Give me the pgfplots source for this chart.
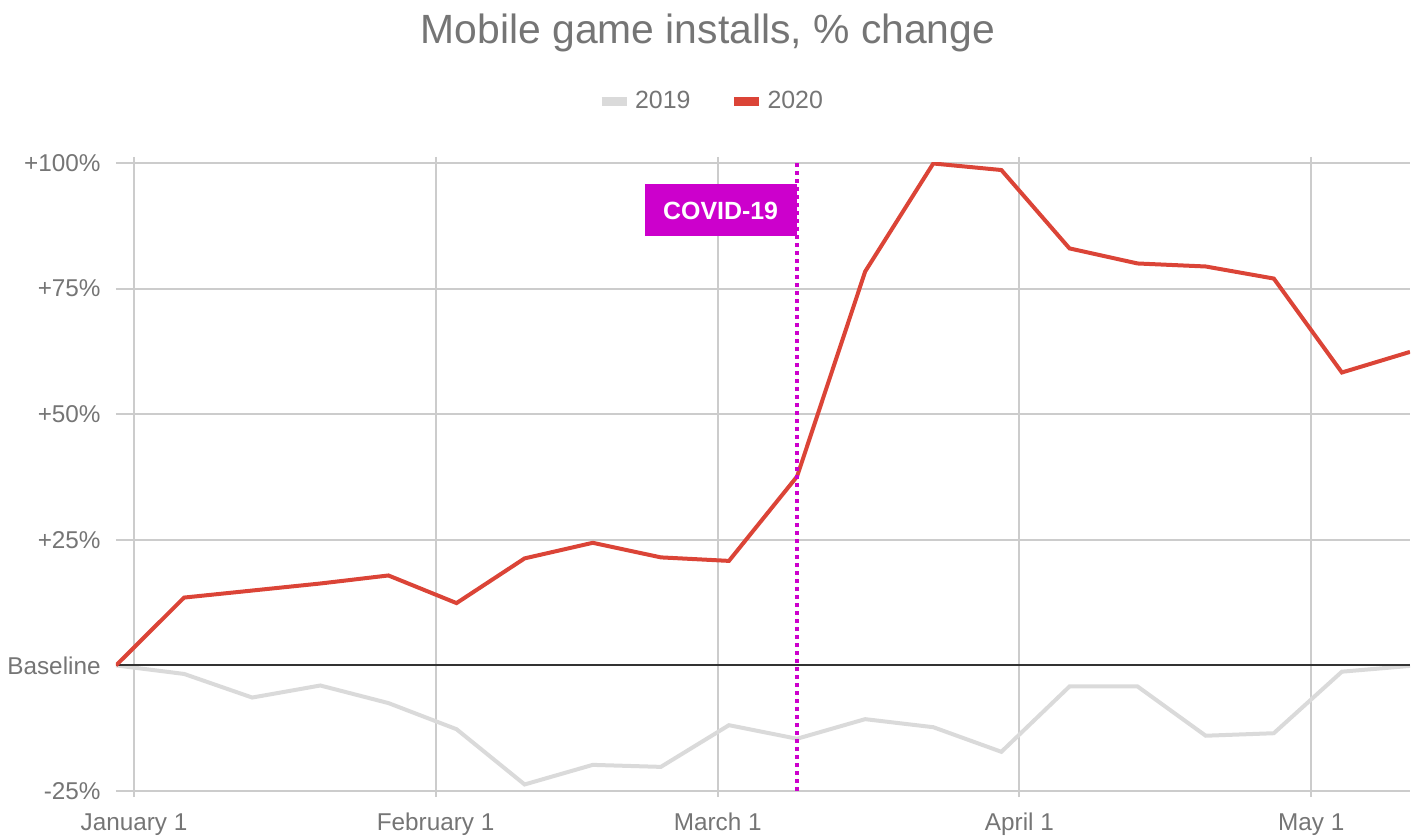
\documentclass[border=0pt]{standalone}
\usepackage{fontspec}
\setmainfont{Liberation Sans}
\usepackage{pgfplots}
\pgfplotsset{compat=1.18}
\definecolor{txt}{HTML}{757575}
\definecolor{red20}{HTML}{DB4437}
\definecolor{gray19}{HTML}{DADADA}
\definecolor{gridc}{HTML}{CCCCCC}
\definecolor{covid}{HTML}{CC00CC}
\begin{document}
\begin{tikzpicture}
\begin{axis}[
  scale only axis, width=647bp, height=314bp,
  at={(0,0)}, anchor=south west,
  xmin=-1.85, xmax=131.15, ymin=-25, ymax=100,
  xtick={0,31,60,91,121},
  xticklabels={January 1, February 1, March 1, April 1, May 1},
  ytick={-25,0,25,50,75,100},
  yticklabels={-25\%, Baseline, +25\%, +50\%, +75\%, +100\%},
  grid=major, major grid style={gridc, line width=1bp},
  axis line style={draw=none},
  tick align=outside, major tick length=3bp,
  xtick style={gridc, line width=1bp},
  ytick style={draw=none},
  ticklabel style={font=\fontsize{12.2}{14}\selectfont, text=txt},
  yticklabel style={anchor=east, inner sep=0pt, xshift=-4.5bp},
  xticklabel style={anchor=base, inner sep=0pt, yshift=-16.5bp},
  title={Mobile game installs, \% change},
  title style={at={(0.4575,1.172)}, anchor=base, font=\fontsize{20.5}{24}\selectfont, text=txt},
  legend style={at={(0.4606,1.0987)}, anchor=center, draw=none, fill=none,
    legend columns=-1, font=\fontsize{12.5}{15}\selectfont, text=txt,
    /tikz/every even column/.append style={column sep=17.5bp}},
  legend image code/.code={\draw[#1, line width=4.5bp] (0bp,0bp) -- (12.5bp,0bp);},
]
\addplot[gray19, line width=2bp] coordinates {
(-1.85,0) (5.15,-1.7) (12.15,-6.4) (19.15,-4.0) (26.15,-7.5) (33.15,-12.7)
(40.15,-23.7) (47.15,-19.8) (54.15,-20.2) (61.15,-11.9) (68.15,-14.6)
(75.15,-10.7) (82.15,-12.3) (89.15,-17.2) (96.15,-4.2) (103.15,-4.2)
(110.15,-14.0) (117.15,-13.5) (124.15,-1.25) (131.15,-0.1)};
\addlegendentry{2019}
\addplot[black!80, line width=1bp, forget plot] coordinates {(-1.85,0) (131.15,0)};
\addplot[red20, line width=2bp] coordinates {
(-1.85,0) (5.15,13.5) (12.15,14.9) (19.15,16.3) (26.15,17.9) (33.15,12.4)
(40.15,21.3) (47.15,24.4) (54.15,21.5) (61.15,20.8) (68.15,37.6)
(75.15,78.4) (82.15,99.9) (89.15,98.6) (96.15,83.0) (103.15,80.0)
(110.15,79.4) (117.15,77.0) (124.15,58.3) (131.15,62.4)};
\addlegendentry{2020}
\addplot[covid, line width=1.8bp, dash pattern=on 2bp off 2bp, forget plot] coordinates {(68.15,-25) (68.15,100)};
\node[fill=covid, text=white, font=\bfseries\fontsize{12.5}{15}\selectfont, minimum width=76bp, minimum height=26bp, inner sep=0pt, anchor=north east] at (axis cs:68.15,95.8) {COVID-19};
\end{axis}
\pgfresetboundingbox
\path (-58bp,-23bp) rectangle (651bp,395.5bp);
\end{tikzpicture}
\end{document}
